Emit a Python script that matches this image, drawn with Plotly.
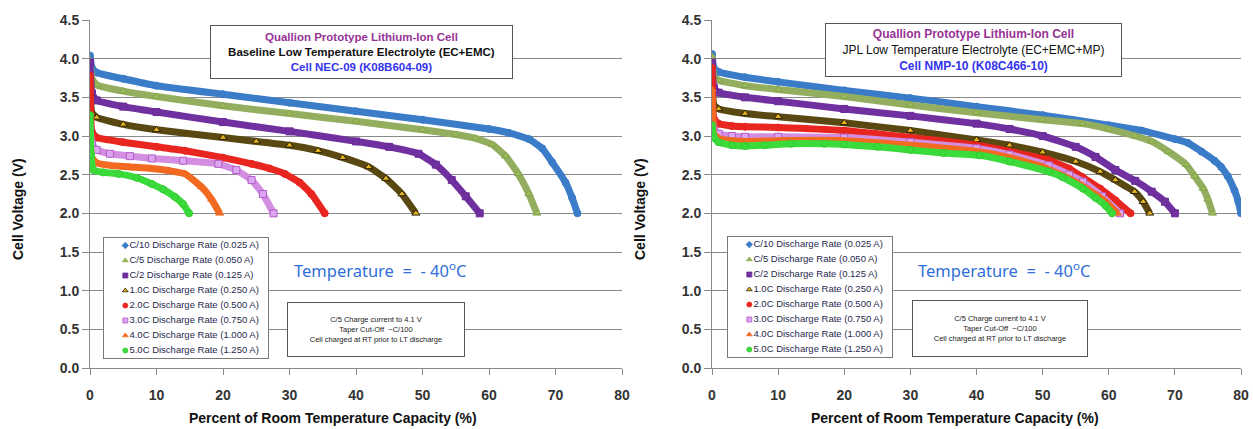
import plotly.graph_objects as go

W, H = 1253, 429

rate_labels = [
    "C/10 Discharge Rate (0.025 A)",
    "C/5 Discharge Rate (0.050 A)",
    "C/2 Discharge Rate (0.125 A)",
    "1.0C Discharge Rate (0.250 A)",
    "2.0C Discharge Rate (0.500 A)",
    "3.0C Discharge Rate (0.750 A)",
    "4.0C Discharge Rate (1.000 A)",
    "5.0C Discharge Rate (1.250 A)",
]

x_ticks = [0, 10, 20, 30, 40, 50, 60, 70, 80]
y_ticks = [0.0, 0.5, 1.0, 1.5, 2.0, 2.5, 3.0, 3.5, 4.0, 4.5]

# ---- Left chart: Cell NEC-09 (baseline EC+EMC) ----
nec_c10_x = [0, 0.3, 1, 5, 10, 20, 30, 40, 50, 60, 63, 66, 68, 69.5, 71.5, 72.5, 73.3]
nec_c10_v = [4.04, 3.88, 3.82, 3.74, 3.65, 3.54, 3.43, 3.32, 3.21, 3.09, 3.04, 2.96, 2.84, 2.66, 2.40, 2.20, 2.00]
nec_c5_x = [0, 0.3, 1, 5, 10, 20, 30, 40, 50, 55, 58, 60.5, 62.5, 64.4, 66, 67.2]
nec_c5_v = [3.98, 3.74, 3.66, 3.58, 3.51, 3.39, 3.29, 3.19, 3.08, 3.02, 2.97, 2.89, 2.74, 2.51, 2.25, 2.00]
nec_c2_x = [0, 0.3, 1, 5, 10, 20, 30, 40, 45, 49.4, 52, 54.4, 56.5, 58.6]
nec_c2_v = [3.95, 3.55, 3.46, 3.38, 3.31, 3.18, 3.06, 2.93, 2.86, 2.77, 2.63, 2.43, 2.22, 2.00]
nec_1c_x = [0, 0.3, 1, 5, 10, 20, 25, 30, 34.3, 38, 41.9, 44.5, 46.9, 49]
nec_1c_v = [3.55, 3.30, 3.24, 3.15, 3.08, 2.98, 2.93, 2.88, 2.81, 2.72, 2.60, 2.45, 2.25, 2.00]
nec_2c_x = [0, 0.3, 1, 5, 10, 14.3, 20, 24.3, 27, 29.3, 31.5, 33.3, 35.3]
nec_2c_v = [3.78, 3.05, 2.98, 2.92, 2.86, 2.81, 2.72, 2.64, 2.58, 2.51, 2.40, 2.25, 2.00]
nec_3c_x = [0, 0.3, 1, 3, 6, 9.3, 14, 19.3, 22, 24.3, 26, 27.6]
nec_3c_v = [3.10, 2.90, 2.82, 2.77, 2.74, 2.71, 2.68, 2.64, 2.56, 2.43, 2.25, 2.00]
nec_4c_x = [0, 0.3, 1, 3, 6, 9.3, 12, 14.3, 16.8, 18.3, 19.5]
nec_4c_v = [2.95, 2.72, 2.65, 2.62, 2.60, 2.58, 2.55, 2.51, 2.34, 2.18, 2.00]
nec_5c_x = [0, 0.15, 0.5, 2, 4.3, 7, 9.3, 11, 12.8, 14, 14.9]
nec_5c_v = [3.27, 2.75, 2.56, 2.53, 2.51, 2.46, 2.38, 2.31, 2.21, 2.12, 2.00]

# ---- Right chart: Cell NMP-10 (JPL EC+EMC+MP) ----
nmp_c10_x = [0, 0.3, 1, 5, 10, 20, 30, 40, 50, 60, 65, 70, 72, 74, 76, 77, 78, 79, 79.6, 80]
nmp_c10_v = [4.06, 3.88, 3.83, 3.76, 3.70, 3.59, 3.49, 3.38, 3.27, 3.14, 3.07, 2.96, 2.91, 2.80, 2.68, 2.60, 2.48, 2.30, 2.15, 2.00]
nmp_c5_x = [0, 0.3, 1, 5, 10, 20, 30, 40, 50, 56, 60, 64, 66.5, 69, 71.7, 73, 74.3, 75, 75.7]
nmp_c5_v = [4.03, 3.77, 3.72, 3.65, 3.60, 3.51, 3.40, 3.30, 3.21, 3.16, 3.09, 3.00, 2.93, 2.80, 2.63, 2.48, 2.32, 2.18, 2.00]
nmp_c2_x = [0, 0.3, 1, 5, 10, 20, 30, 40, 45, 50, 55, 58, 61, 64, 66.5, 68.5, 70]
nmp_c2_v = [3.95, 3.62, 3.56, 3.50, 3.45, 3.35, 3.26, 3.16, 3.09, 3.00, 2.86, 2.73, 2.56, 2.42, 2.28, 2.15, 2.00]
nmp_1c_x = [0, 0.3, 1, 5, 10, 20, 30, 40, 45, 50, 55, 58.7, 61, 63.9, 65.2, 66.2]
nmp_1c_v = [3.60, 3.40, 3.35, 3.29, 3.25, 3.17, 3.07, 2.95, 2.88, 2.79, 2.67, 2.54, 2.43, 2.28, 2.15, 2.00]
nmp_2c_x = [0, 0.3, 1, 3, 5, 10, 20, 30, 40, 45, 50.9, 54, 56, 58.7, 61, 63.3]
nmp_2c_v = [3.88, 3.22, 3.16, 3.13, 3.12, 3.11, 3.07, 2.98, 2.88, 2.80, 2.69, 2.58, 2.47, 2.32, 2.17, 2.00]
nmp_3c_x = [0, 0.3, 1, 3, 5, 10, 20, 30, 40, 45, 50.9, 54, 56.1, 59, 61.7]
nmp_3c_v = [3.35, 3.08, 3.03, 3.00, 2.99, 2.99, 2.98, 2.92, 2.84, 2.76, 2.62, 2.50, 2.41, 2.22, 2.00]
nmp_4c_x = [0, 0.3, 1, 3, 5, 10, 20, 30, 40, 45, 50, 54, 57, 59.5, 61.3]
nmp_4c_v = [3.60, 3.02, 2.97, 2.94, 2.93, 2.94, 2.94, 2.88, 2.80, 2.72, 2.60, 2.45, 2.30, 2.15, 2.00]
nmp_5c_x = [0, 0.3, 1, 3, 5, 8, 12, 17, 20, 25, 30, 35, 40.5, 45, 50.9, 53, 56.1, 58, 59.5, 60.5]
nmp_5c_v = [3.14, 2.98, 2.92, 2.88, 2.87, 2.88, 2.90, 2.90, 2.89, 2.86, 2.82, 2.78, 2.75, 2.67, 2.54, 2.47, 2.32, 2.20, 2.10, 2.00]

nec_x = [nec_c10_x, nec_c5_x, nec_c2_x, nec_1c_x, nec_2c_x, nec_3c_x, nec_4c_x, nec_5c_x]
nec_v = [nec_c10_v, nec_c5_v, nec_c2_v, nec_1c_v, nec_2c_v, nec_3c_v, nec_4c_v, nec_5c_v]
nmp_x = [nmp_c10_x, nmp_c5_x, nmp_c2_x, nmp_1c_x, nmp_2c_x, nmp_3c_x, nmp_4c_x, nmp_5c_x]
nmp_v = [nmp_c10_v, nmp_c5_v, nmp_c2_v, nmp_1c_v, nmp_2c_v, nmp_3c_v, nmp_4c_v, nmp_5c_v]

# ---- styles ----
line_colors = ["#3A7CC8", "#93AE5E", "#7030A0", "#5A4812", "#E8261F", "#D38EE2", "#F26A21", "#3BDB3B"]
fill_colors = ["#3A7CC8", "#9BBB59", "#7030A0", "#E4B420", "#E8261F", "#DDA6F0", "#F26A21", "#3BDB3B"]
edge_colors = ["#3A7CC8", "#86A34E", "#6A2A98", "#2A2000", "#E8261F", "#B45CC8", "#F26A21", "#33CC33"]
plot_symbols = ["circle", "triangle-up", "square", "triangle-up", "circle", "square", "triangle-up", "circle"]
legend_symbols = ["diamond", "triangle-up", "square", "triangle-up", "circle", "square", "triangle-up", "circle"]

FONT = "Liberation Sans, Arial, sans-serif"
GRID = "#8a8a8a"

fig = go.Figure()

def px_x(p):
    return p / W

def px_y(p):
    return 1 - p / H

panels = [
    dict(xs=nec_x, vs=nec_v, xa="x", ya="y"),
    dict(xs=nmp_x, vs=nmp_v, xa="x2", ya="y2"),
]

for pnl in panels:
    for i in range(len(rate_labels)):
        fig.add_trace(go.Scatter(
            x=pnl["xs"][i], y=pnl["vs"][i], name=rate_labels[i],
            xaxis=pnl["xa"], yaxis=pnl["ya"], mode="lines+markers",
            line=dict(color=line_colors[i], width=7, shape="spline", smoothing=0.4),
            marker=dict(symbol=plot_symbols[i], size=7, color=fill_colors[i],
                        line=dict(color=edge_colors[i], width=1)),
            showlegend=False, hoverinfo="skip",
        ))

# custom legend boxes (drawn as small inset subplots)
legend_order = list(range(len(rate_labels)))
for xa, ya in [("x3", "y3"), ("x4", "y4")]:
    fig.add_trace(go.Scatter(
        x=[0.13] * len(rate_labels), y=legend_order, text=rate_labels,
        mode="markers+text", textposition="middle right",
        textfont=dict(family=FONT, size=9.5, color="#1F2A4E"),
        marker=dict(symbol=legend_symbols, size=5, color=fill_colors,
                    line=dict(color=edge_colors, width=0.8)),
        xaxis=xa, yaxis=ya, showlegend=False, hoverinfo="skip", cliponaxis=False,
    ))

tickfont = dict(family=FONT, size=14, color="#333333", weight="bold")
common_x = dict(range=[0, 80], tickvals=x_ticks, ticks="outside", ticklen=6,
                tickcolor=GRID, showline=True, linecolor=GRID, linewidth=1,
                showgrid=False, zeroline=False, tickfont=tickfont, ticklabelstandoff=8,
                automargin=False)
common_y = dict(range=[0, 4.5], tickvals=y_ticks, tickformat=".1f", ticks="outside",
                ticklen=7, tickcolor=GRID, showline=True, linecolor=GRID, linewidth=1,
                showgrid=True, gridcolor=GRID, gridwidth=1, zeroline=False,
                tickfont=tickfont, automargin=False)

ydom = [px_y(368), px_y(20)]
leg_box = dict(showline=True, mirror=True, linecolor="#7a7a7a", linewidth=1,
               showgrid=False, zeroline=False, showticklabels=False, ticks="",
               fixedrange=True, automargin=False)

fig.update_layout(
    width=W, height=H,
    margin=dict(l=0, r=0, t=0, b=0, pad=0),
    paper_bgcolor="white", plot_bgcolor="white",
    showlegend=False,
    xaxis=dict(domain=[px_x(90), px_x(622)], anchor="y", **common_x),
    yaxis=dict(domain=ydom, anchor="x", **common_y),
    xaxis2=dict(domain=[px_x(712), px_x(1241)], anchor="y2", **common_x),
    yaxis2=dict(domain=ydom, anchor="x2", **common_y),
    xaxis3=dict(domain=[px_x(104), px_x(268)], anchor="y3", range=[0, 1], **leg_box),
    yaxis3=dict(domain=[px_y(358), px_y(238)], anchor="x3", range=[7.5, -0.5], **leg_box),
    xaxis4=dict(domain=[px_x(728), px_x(892)], anchor="y4", range=[0, 1], **leg_box),
    yaxis4=dict(domain=[px_y(357), px_y(237)], anchor="x4", range=[7.5, -0.5], **leg_box),
)

title_font = dict(family=FONT, size=14, color="#111111", weight="bold")
small_font = dict(family="Liberation Sans Narrow, Liberation Sans, Arial", size=7.5, color="#222222")
temp_font = dict(family="Noto Sans, DejaVu Sans", size=16.5, color="#2F6FD8")
annotations = [
    # axis titles
    dict(x=px_x(18), y=px_y(209), text="Cell Voltage (V)", textangle=-90, font=title_font),
    dict(x=px_x(640), y=px_y(209), text="Cell Voltage (V)", textangle=-90, font=title_font),
    dict(x=px_x(333), y=px_y(418), text="Percent of Room Temperature Capacity (%)", font=title_font),
    dict(x=px_x(955), y=px_y(418), text="Percent of Room Temperature Capacity (%)", font=title_font),
    # header boxes
    dict(x=px_x(361.5), y=px_y(52),
         text="<b><span style='color:#963296'>Quallion Prototype Lithium-Ion Cell</span></b><br>"
              "<b>Baseline Low Temperature Electrolyte (EC+EMC)</b><br>"
              "<b><span style='color:#3333EE'>Cell NEC-09 (K08B604-09)</span></b>",
         font=dict(family=FONT, size=11.5, color="#111111"),
         width=299, height=50, bgcolor="white", bordercolor="#555555", borderwidth=1, borderpad=1),
    dict(x=px_x(973.5), y=px_y(50),
         text="<b><span style='color:#963296'>Quallion Prototype Lithium-Ion Cell</span></b><br>"
              "JPL Low Temperature Electrolyte (EC+EMC+MP)<br>"
              "<b><span style='color:#3333EE'>Cell NMP-10 (K08C466-10)</span></b>",
         font=dict(family=FONT, size=12, color="#111111"),
         width=293, height=50, bgcolor="white", bordercolor="#555555", borderwidth=1, borderpad=1),
    # charge-condition boxes
    dict(x=px_x(376), y=px_y(329.5),
         text="C/5 Charge current to 4.1 V<br>Taper Cut-Off  ~C/100<br>Cell charged at RT prior to LT discharge",
         font=small_font,
         width=174, height=51, bgcolor="white", bordercolor="#555555", borderwidth=1, borderpad=1),
    dict(x=px_x(1000), y=px_y(328.5),
         text="C/5 Charge current to 4.1 V<br>Taper Cut-Off  ~C/100<br>Cell charged at RT prior to LT discharge",
         font=small_font,
         width=172, height=53, bgcolor="white", bordercolor="#555555", borderwidth=1, borderpad=1),
    # temperature labels
    dict(x=px_x(379.5), y=px_y(270), text="Temperature  =  - 40<sup>o</sup>C", font=temp_font),
    dict(x=px_x(1003.5), y=px_y(270), text="Temperature  =  - 40<sup>o</sup>C", font=temp_font),
]
for a in annotations:
    a.setdefault("xref", "paper")
    a.setdefault("yref", "paper")
    a.setdefault("showarrow", False)
    a.setdefault("xanchor", "center")
    a.setdefault("yanchor", "middle")
fig.update_layout(annotations=annotations)

fig.write_html("out.html", config={"displayModeBar": False},
               post_script="document.body.style.margin='0px';")
